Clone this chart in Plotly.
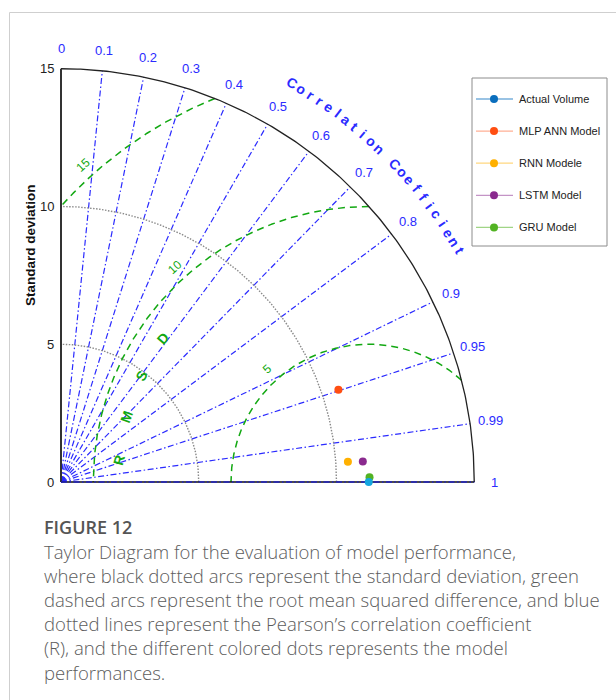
import numpy as np
import plotly.graph_objects as go

# ---- model statistics (standard deviation and Pearson correlation) ----
models = ["Actual Volume", "MLP ANN Model", "RNN Modele", "LSTM Model", "GRU Model"]
std_dev = [11.17, 10.61, 10.44, 10.98, 11.20]
corr_r = [1.0, 0.949, 0.9975, 0.9977, 0.99988]
dot_colors = ["#14A6E0", "#FF4E12", "#FFB000", "#8A2A8E", "#52B323"]
legend_marker_colors = ["#0A6EBD", "#FF4E12", "#FFB000", "#8A2A8E", "#52B323"]
legend_line_colors = ["rgba(10,110,189,0.55)", "rgba(255,78,18,0.45)", "rgba(255,176,0,0.5)",
                      "rgba(138,42,142,0.5)", "rgba(82,179,35,0.55)"]

# ---- axis / grid definitions ----
std_max = 15
std_ticks = [0, 5, 10, 15]
std_arcs = [5, 10]
corr_ticks = [0, 0.1, 0.2, 0.3, 0.4, 0.5, 0.6, 0.7, 0.8, 0.9, 0.95, 0.99, 1]
corr_tick_labels = ["0", "0.1", "0.2", "0.3", "0.4", "0.5", "0.6", "0.7", "0.8", "0.9", "0.95", "0.99", "1"]
rmsd_levels = [5, 10, 15]
rmsd_letters = ["R", "M", "S", "D"]
corr_title = "Correlation Coefficient"

caption_head = "FIGURE 12"
caption_lines = [
    "Taylor Diagram for the evaluation of model performance,",
    "where black dotted arcs represent the standard deviation, green",
    "dashed arcs represent the root mean squared difference, and blue",
    "dotted lines represent the Pearson\u2019s correlation coefficient",
    "(R), and the different colored dots represents the model",
    "performances.",
]

W, H = 616, 700
OX, OY, S = 61.0, 482.0, 27.55  # origin in pixels, pixels per std unit


def px(xp, yp):
    """pixel position -> data coordinates"""
    return (xp - OX) / S, (OY - yp) / S


ref_std = std_dev[0]
BLUE = "#2B2BFF"
GREEN = "#12A812"
FONT = "Liberation Sans, Arial, sans-serif"
DASHDOT = "6px,2.5px,1.5px,2.5px"

fig = go.Figure()
ann = []


def line(x, y, color, width, dash="solid"):
    fig.add_trace(go.Scatter(x=x, y=y, mode="lines", hoverinfo="skip", showlegend=False,
                             line=dict(color=color, width=width, dash=dash)))


# correlation rays
for r in corr_ticks[1:]:
    th = np.arccos(r)
    line([0, std_max * np.cos(th)], [0, std_max * np.sin(th)], BLUE, 1.2, DASHDOT)

# standard deviation arcs (dotted)
t = np.linspace(0, np.pi / 2, 200)
for s in std_arcs:
    line(s * np.cos(t), s * np.sin(t), "#8a8a8a", 1.4, "1.5px,1.5px")

# RMSD arcs centred on the reference point, clipped to the quadrant
phi = np.linspace(0, np.pi, 3000)
for rl in rmsd_levels:
    xs = ref_std + rl * np.cos(phi)
    ys = rl * np.sin(phi)
    keep = (xs >= 0) & (np.hypot(xs, ys) <= std_max + 1e-9)
    line(xs[keep], ys[keep], GREEN, 1.5, "7px,5px")
    a = np.deg2rad(132)
    ann.append(dict(x=ref_std + (rl + 0.5) * np.cos(a), y=(rl + 0.5) * np.sin(a), text=str(rl),
                    textangle=-42, showarrow=False, font=dict(family=FONT, size=12, color=GREEN)))

# "RMSD" lettering along an arc around the reference
for letter, ang, rot in zip(rmsd_letters, [175, 165, 155, 145], [-75, -70, -62, -50]):
    a = np.deg2rad(ang)
    ann.append(dict(x=ref_std + 9.1 * np.cos(a), y=9.1 * np.sin(a), text="<b>%s</b>" % letter,
                    textangle=rot, showarrow=False, font=dict(family=FONT, size=14, color=GREEN)))

# outer boundary and axes
line(std_max * np.cos(t), std_max * np.sin(t), "#222222", 1.3)
line([0, 0], [0, std_max], "#333333", 2)
line([0, std_max], [0, 0], "#111111", 1.5)
line([0, std_max], [0, 0], BLUE, 1.2, DASHDOT)

# std tick labels on the vertical axis
for v in std_ticks:
    ann.append(dict(x=-0.17, y=v, text=str(v), xanchor="right", showarrow=False,
                    font=dict(family=FONT, size=13, color="#222")))
ann.append(dict(x=px(30, 0)[0], y=px(0, 245)[1], text="<b>Standard deviation</b>", textangle=-90,
                showarrow=False, font=dict(family=FONT, size=13.5, color="#111")))

# correlation tick labels
for r, lab in zip(corr_ticks, corr_tick_labels):
    th = np.arccos(r)
    ann.append(dict(x=15.73 * np.cos(th), y=15.73 * np.sin(th), text=lab, showarrow=False,
                    font=dict(family=FONT, size=13, color=BLUE)))

# curved axis title
angs = np.linspace(59.9, 30.06, len(corr_title))
for ch, ang in zip(corr_title, angs):
    if ch == " ":
        continue
    a = np.deg2rad(ang)
    ann.append(dict(x=16.73 * np.cos(a), y=16.73 * np.sin(a), text="<b>%s</b>" % ch,
                    textangle=90 - ang, showarrow=False, font=dict(family=FONT, size=14, color=BLUE)))

# model points
for name, s, r, c in zip(models[1:] + models[:1], std_dev[1:] + std_dev[:1],
                         corr_r[1:] + corr_r[:1], dot_colors[1:] + dot_colors[:1]):
    th = np.arccos(r)
    fig.add_trace(go.Scatter(x=[s * np.cos(th)], y=[s * np.sin(th)], mode="markers", name=name,
                             showlegend=False, marker=dict(size=8, color=c)))

# legend box
lx0, ly0 = px(472, 78)
lx1, ly1 = px(607, 246)
shapes = [dict(type="rect", xref="x", yref="y", x0=lx0, y0=ly0, x1=lx1, y1=ly1,
               line=dict(color="#8c8c8c", width=1), fillcolor="white", layer="below")]
for i, name in enumerate(models):
    yp = 99 + i * 32.1
    xa, ya = px(476, yp)
    xb, _ = px(513, yp)
    xm, _ = px(494, yp)
    line([xa, xb], [ya, ya], legend_line_colors[i], 1.3)
    fig.add_trace(go.Scatter(x=[xm], y=[ya], mode="markers", showlegend=False, hoverinfo="skip",
                             marker=dict(size=8, color=legend_marker_colors[i])))
    ann.append(dict(x=px(517, 0)[0], y=ya, text=name, xanchor="left", showarrow=False,
                    font=dict(family=FONT, size=11, color="#222")))

# page frame
shapes.append(dict(type="rect", xref="paper", yref="paper", x0=9.5 / W, x1=1.2,
                   y0=-0.2, y1=1 - 12.5 / H, line=dict(color="#cfcfcf", width=1), layer="below"))

# caption
CAP = "Open Sans, Noto Sans, sans-serif"
ann.append(dict(xref="paper", yref="paper", x=42 / W, y=1 - 527 / H, xanchor="left", yanchor="middle",
                text=caption_head, showarrow=False,
                font=dict(family=CAP, size=18, color="#555", weight=600)))
for i, txt in enumerate(caption_lines):
    ann.append(dict(xref="paper", yref="paper", x=42 / W, y=1 - (551 + 24.2 * i) / H, xanchor="left",
                    yanchor="middle", text=txt, showarrow=False,
                    font=dict(family=CAP, size=18.55, color="#5c5c5c", weight=300)))

xr = [px(0, 0)[0], px(W, 0)[0]]
yr = [px(0, H)[1], px(0, 0)[1]]
fig.update_layout(
    width=W, height=H, margin=dict(l=0, r=0, t=0, b=0),
    paper_bgcolor="white", plot_bgcolor="white", showlegend=False,
    xaxis=dict(range=xr, visible=False, fixedrange=True),
    yaxis=dict(range=yr, visible=False, fixedrange=True),
    annotations=ann, shapes=shapes,
)
fig.write_html("out.html")
